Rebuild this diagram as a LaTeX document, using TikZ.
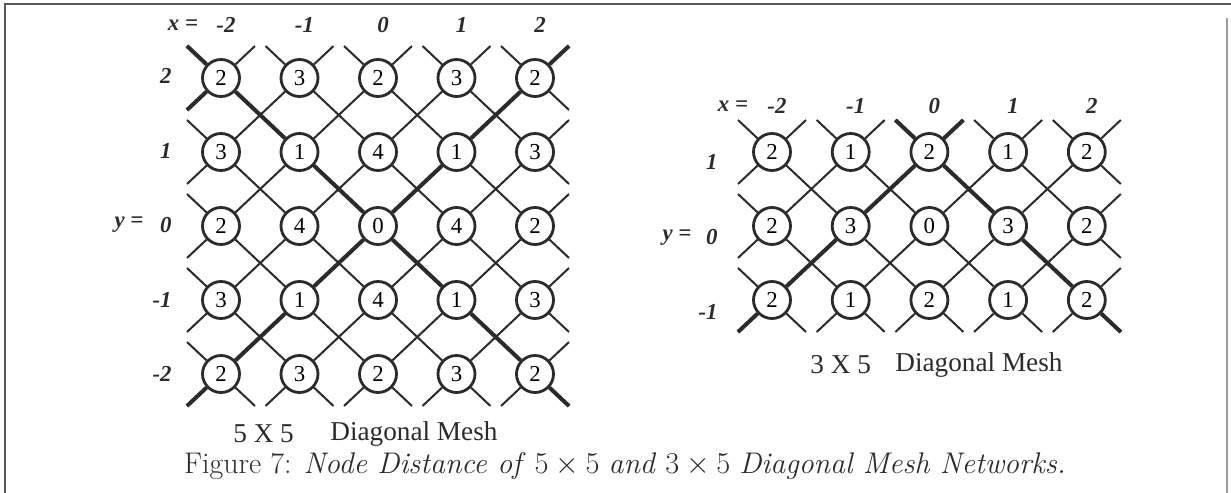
\documentclass[tikz,border=0pt]{standalone}
\usepackage{fontspec}
\usepackage{graphicx}
\newfontfamily\timesf{Liberation Serif}
\definecolor{ink}{HTML}{2B2B2B}
\definecolor{rule}{HTML}{555A55}
\usetikzlibrary{positioning}

\begin{document}
\begin{tikzpicture}[x=0.02cm, y=-0.02cm,
        pe/.style={
            circle,
            draw=ink,
            line width=1.6pt,
            minimum size=0.74cm,
            inner sep=0pt,
            font=\timesf\fontsize{13}{13}\selectfont
        },
        link/.style={
            draw=ink,
            line width=1.15pt
        },
        hotlink/.style={
            draw=ink,
            line width=2.3pt
        },
        axis/.style={
            inner sep=0pt,
            text=ink,
            font=\timesf\bfseries\itshape\fontsize{13}{13}\selectfont
        },
        meshtitle/.style={
            inner sep=0pt,
            anchor=west,
            text=ink,
            font=\timesf\fontsize{15.5}{15.5}\selectfont
        }
    ]
    \useasboundingbox (0,0) rectangle (1231,493);

    % Cadre
    \draw[rule, line width=1.2pt] (5,493) -- (5,4) -- (1231,4);
    \draw[rule!60, line width=0.8pt] (1227,18) -- (1227,493);

    % Maillage 5 x 5
    \foreach \row [count=\r from 0] in {{2,3,2,3,2},{3,1,4,1,3},{2,4,0,4,2},{3,1,4,1,3},{2,3,2,3,2}}
        \foreach \v [count=\c from 0] in \row
            \node[pe] (a-\c-\r) at ({221+78.5*\c},{78+74*\r}) {\v};

    \foreach \c in {0,...,4}{
        \foreach \r in {0,...,4}{
            \foreach \dc/\dr in {1/1,1/-1,-1/1,-1/-1}{
                \pgfmathtruncatemacro\nbc{\c+\dc}
                \pgfmathtruncatemacro\nbr{\r+\dr}
                \pgfmathtruncatemacro\isout{(\nbc<0)||(\nbc>4)||(\nbr<0)||(\nbr>4)}
                \ifnum\isout=1
                    \draw[link] (a-\c-\r) -- +(\dc*34,\dr*32);
                \else\ifnum\dc=1
                    \draw[link] (a-\c-\r) -- (a-\nbc-\nbr);
                \fi\fi
            }
        }
    }

    % Chemins en gras (5 x 5)
    \draw[hotlink] (a-0-0) -- (a-1-1) -- (a-2-2) -- (a-3-3) -- (a-4-4);
    \draw[hotlink] (a-4-0) -- (a-3-1) -- (a-2-2) -- (a-1-3) -- (a-0-4);
    \draw[hotlink] (a-0-0) -- +(-34,-32);
    \draw[hotlink] (a-0-0) -- +(-34,32);
    \draw[hotlink] (a-4-0) -- +(34,-32);
    \draw[hotlink] (a-0-4) -- +(-34,32);
    \draw[hotlink] (a-4-4) -- +(34,32);

    % Axes (5 x 5)
    \node[axis] (xa) at (183,25) {x =};
    \foreach \t [count=\c from 0] in {-2,-1,0,1,2}
        \node[axis] (xa\c) at ({226+78.5*\c},25) {\t};
    \node[axis] (ya) at (129,225) {y =};
    \foreach \t [count=\r from 0] in {2,1,0,-1,-2}
        \node[axis, anchor=east] (ya\r) at (172,{76+74.5*\r}) {\t};

    \node[meshtitle] (ta) at (233,434) {5 X 5};
    \node[meshtitle] (tb) at (330,434) {Diagonal Mesh};

    % Maillage 3 x 5
    \foreach \row [count=\r from 0] in {{2,1,2,1,2},{2,3,0,3,2},{2,1,2,1,2}}
        \foreach \v [count=\c from 0] in \row
            \node[pe] (b-\c-\r) at ({772+78.7*\c},{152+74*\r}) {\v};

    \foreach \c in {0,...,4}{
        \foreach \r in {0,...,2}{
            \foreach \dc/\dr in {1/1,1/-1,-1/1,-1/-1}{
                \pgfmathtruncatemacro\nbc{\c+\dc}
                \pgfmathtruncatemacro\nbr{\r+\dr}
                \pgfmathtruncatemacro\isout{(\nbc<0)||(\nbc>4)||(\nbr<0)||(\nbr>2)}
                \ifnum\isout=1
                    \draw[link] (b-\c-\r) -- +(\dc*34,\dr*32);
                \else\ifnum\dc=1
                    \draw[link] (b-\c-\r) -- (b-\nbc-\nbr);
                \fi\fi
            }
        }
    }

    % Chemins en gras (3 x 5)
    \draw[hotlink] (b-0-2) -- (b-1-1) -- (b-2-0) -- (b-3-1) -- (b-4-2);
    \draw[hotlink] (b-2-0) -- +(-34,-32);
    \draw[hotlink] (b-2-0) -- +(34,-32);
    \draw[hotlink] (b-0-2) -- +(-34,32);
    \draw[hotlink] (b-4-2) -- +(34,32);

    % Axes (3 x 5)
    \node[axis] (xb) at (733,106) {x =};
    \foreach \t [count=\c from 0] in {-2,-1,0,1,2}
        \node[axis] (xb\c) at ({777+78.7*\c},106) {\t};
    \node[axis] (yb) at (677,238) {y =};
    \foreach \t [count=\r from 0] in {1,0,-1}
        \node[axis, anchor=east] (yb\r) at (718,{162+75*\r}) {\t};

    \node[meshtitle] (tc) at (810,365) {3 X 5};
    \node[meshtitle] (td) at (895,365) {Diagonal Mesh};

    % Legende
    \node[text=ink, font=\fontsize{17}{17}\selectfont] (cap) at (625,466)
        {Figure 7: \textit{Node Distance of} $5\times5$ \textit{and} $3\times5$ \textit{Diagonal Mesh Networks.}};

\end{tikzpicture}
\end{document}
